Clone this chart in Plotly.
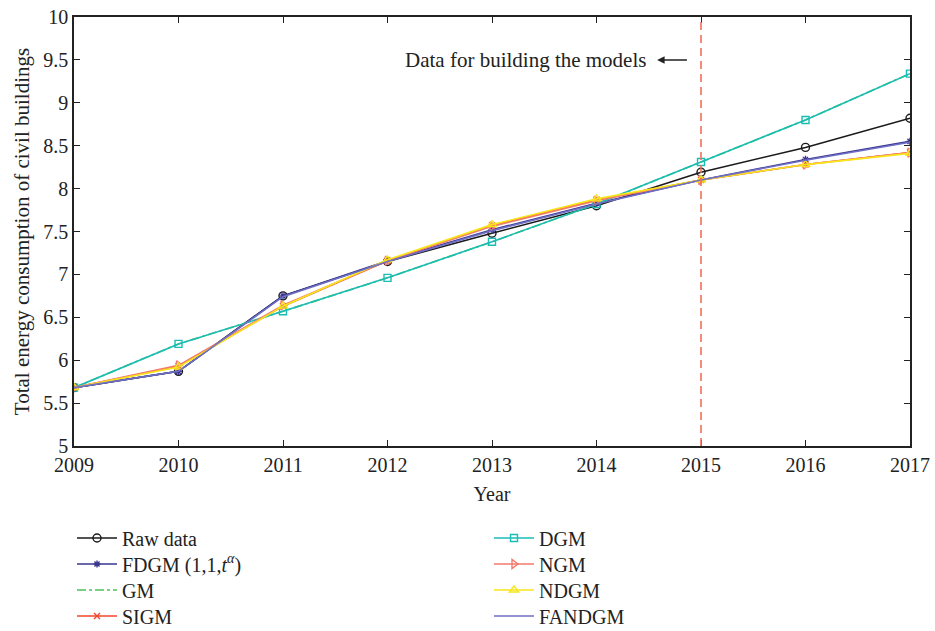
import plotly.graph_objects as go

# Civil building energy consumption: raw data and model fits (2009-2017)
years = [2009, 2010, 2011, 2012, 2013, 2014, 2015, 2016, 2017]

raw_data = [5.68, 5.87, 6.75, 7.15, 7.48, 7.80, 8.19, 8.48, 8.82]
fdgm = [5.68, 5.87, 6.75, 7.16, 7.52, 7.83, 8.10, 8.34, 8.55]
gm = [5.68, 6.19, 6.57, 6.96, 7.38, 7.82, 8.31, 8.80, 9.34]
sigm = [5.68, 5.93, 6.63, 7.16, 7.57, 7.87, 8.10, 8.28, 8.42]
dgm = [5.68, 6.19, 6.57, 6.96, 7.38, 7.82, 8.31, 8.80, 9.34]
ngm = [5.68, 5.94, 6.64, 7.16, 7.56, 7.86, 8.10, 8.28, 8.42]
ndgm = [5.68, 5.92, 6.63, 7.17, 7.58, 7.88, 8.10, 8.28, 8.41]
fandgm = [5.68, 5.87, 6.74, 7.15, 7.51, 7.82, 8.10, 8.33, 8.54]

split_year = 2015
y_ticks = [5, 5.5, 6, 6.5, 7, 7.5, 8, 8.5, 9, 9.5, 10]

FONT = "Liberation Serif"
INK = "#222"

W, H = 935, 631
M_L, M_R, M_T, M_B = 74, 25, 17, 185
PLOT_W, PLOT_H = W - M_L - M_R, H - M_T - M_B

series = [
    # name, values, color, dash, marker symbol, marker size
    ("Raw data", raw_data, "#1a1a1a", "solid", "circle-open", 8),
    ("FDGM (1,1,<i>t</i><sup><i>α</i></sup>)", fdgm, "#3a3790", "solid", "asterisk-open", 6),
    ("GM", gm, "#4cc25a", "dashdot", None, 0),
    ("SIGM", sigm, "#f2452a", "solid", "x-thin-open", 6),
    ("DGM", dgm, "#19bdb4", "solid", "square-open", 7),
    ("NGM", ngm, "#f47a6c", "solid", "triangle-right-open", 8),
    ("NDGM", ndgm, "#f7e61a", "solid", "triangle-up-open", 8),
    ("FANDGM", fandgm, "#6f6fc4", "solid", None, 0),
]

# legend entries: two columns of four rows below the axes (pixel anchors)
legend_cols_px = [72, 489]
legend_rows_px = [538, 564, 590, 616]

fig = go.Figure()
legend_layout = {}
for i, (name, vals, color, dash, symbol, msize) in enumerate(series):
    key = "legend" if i == 0 else f"legend{i + 1}"
    col, row = divmod(i, 4)
    legend_layout[key] = dict(
        x=(legend_cols_px[col] - M_L) / PLOT_W,
        y=(H - M_B - legend_rows_px[row]) / PLOT_H,
        xanchor="left", yanchor="middle",
        font=dict(family=FONT, size=20, color=INK),
        bgcolor="rgba(0,0,0,0)", itemwidth=40, visible=True,
    )
    mode = "lines+markers" if symbol else "lines"
    kw = dict(x=years, y=vals, name=name, mode=mode, legend=key, showlegend=True,
              line=dict(color=color, width=1.6, dash=dash))
    if symbol:
        kw["marker"] = dict(symbol=symbol, size=msize, color=color,
                            line=dict(color=color, width=1.4))
    fig.add_trace(go.Scatter(**kw))

# Boundary between modelling data and forecast period
fig.add_vline(x=split_year, line=dict(color="#f2705a", width=1.6, dash="8px,5px"))

fig.add_annotation(x=2014.49, y=9.5, xref="x", yref="y", text="Data for building the models",
                   showarrow=False, xanchor="right", yanchor="middle",
                   font=dict(family=FONT, size=21, color=INK))
fig.add_annotation(x=2014.58, y=9.5, xref="x", yref="y", ax=2014.88, ay=9.5,
                   axref="x", ayref="y", text="", showarrow=True,
                   arrowhead=2, arrowsize=1, arrowwidth=1.5, arrowcolor=INK)

axis_common = dict(showline=True, linecolor=INK, linewidth=1.5, mirror="ticks",
                   ticks="inside", ticklen=6, tickcolor=INK, tickwidth=1.3,
                   showgrid=False, zeroline=False, automargin=False,
                   tickfont=dict(family=FONT, size=20, color=INK))

fig.update_xaxes(range=[2009, 2017], tickvals=years, ticktext=[str(y) for y in years],
                 tickangle=0,
                 title=dict(text="Year", standoff=12, font=dict(family=FONT, size=20, color=INK)),
                 **axis_common)
fig.update_yaxes(range=[5, 10], tickvals=y_ticks, ticktext=[f"{v:g}" for v in y_ticks],
                 title=dict(text="Total energy consumption of civil buildings", standoff=8,
                            font=dict(family=FONT, size=21, color=INK)),
                 **axis_common)

fig.update_layout(
    width=W, height=H,
    margin=dict(l=M_L, r=M_R, t=M_T, b=M_B, autoexpand=False),
    paper_bgcolor="white", plot_bgcolor="white",
    font=dict(family=FONT, size=20, color=INK),
    showlegend=True,
    **legend_layout,
)

fig.write_html("out.html")
